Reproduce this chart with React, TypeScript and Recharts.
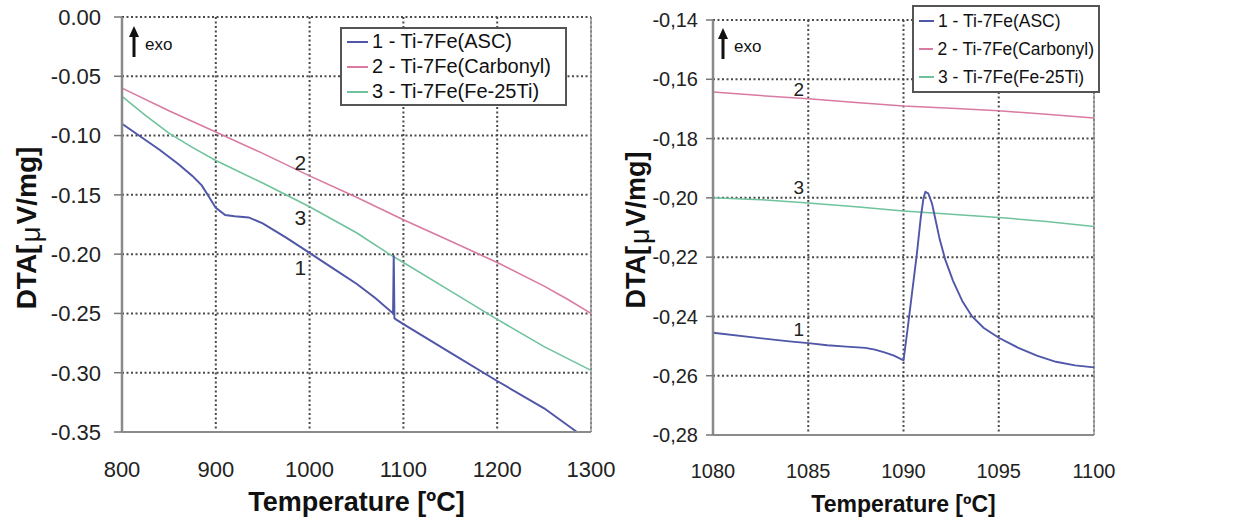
import { LineChart, Line, XAxis, YAxis, CartesianGrid, ReferenceLine, ReferenceDot, Legend } from 'recharts';

// series shared by both panels
const seriesNames = ['1 - Ti-7Fe(ASC)', '2 - Ti-7Fe(Carbonyl)', '3 - Ti-7Fe(Fe-25Ti)'];
const seriesColors = ['#5057a8', '#d97aa2', '#6fc39c'];

// left panel: full range 800-1300 C
const wideTicksX = [800, 900, 1000, 1100, 1200, 1300];
const wideTicksY = [0, -0.05, -0.1, -0.15, -0.2, -0.25, -0.3, -0.35];
const wideAscT = [800, 820, 840, 860, 875, 885, 893, 900, 910, 920, 935, 950, 975, 1000, 1025, 1050, 1070, 1089, 1089.7, 1090.4, 1092, 1100, 1150, 1200, 1250, 1285];
const wideAscV = [-0.09, -0.101, -0.112, -0.124, -0.134, -0.142, -0.152, -0.161, -0.167, -0.168, -0.169, -0.174, -0.186, -0.199, -0.212, -0.225, -0.237, -0.25, -0.201, -0.254, -0.255, -0.259, -0.283, -0.307, -0.33, -0.35];
const wideCarT = [800, 850, 900, 950, 1000, 1050, 1100, 1150, 1200, 1250, 1275, 1300];
const wideCarV = [-0.06, -0.079, -0.097, -0.115, -0.134, -0.152, -0.171, -0.189, -0.207, -0.227, -0.238, -0.25];
const wideFeT = [800, 825, 850, 875, 900, 950, 1000, 1050, 1085, 1100, 1150, 1200, 1250, 1300];
const wideFeV = [-0.067, -0.083, -0.098, -0.11, -0.121, -0.14, -0.16, -0.182, -0.2, -0.207, -0.231, -0.255, -0.278, -0.298];

// right panel: zoom 1080-1100 C
const zoomTicksX = [1080, 1085, 1090, 1095, 1100];
const zoomTicksY = [-0.14, -0.16, -0.18, -0.2, -0.22, -0.24, -0.26, -0.28];
const zoomAscT = [1080, 1082, 1084, 1085, 1086, 1087, 1088, 1088.5, 1089, 1089.5, 1090, 1090.2, 1090.45, 1090.7, 1090.9, 1091.05, 1091.15, 1091.3, 1091.5, 1091.7, 1091.9, 1092.2, 1092.6, 1093.1, 1093.6, 1094.2, 1095, 1096, 1097, 1098, 1099, 1100];
const zoomAscV = [-0.2455, -0.247, -0.2484, -0.249, -0.2497, -0.2502, -0.2506, -0.2512, -0.2521, -0.2532, -0.2548, -0.245, -0.232, -0.219, -0.207, -0.2, -0.198, -0.1985, -0.202, -0.208, -0.214, -0.221, -0.228, -0.235, -0.24, -0.2438, -0.2472, -0.2505, -0.2532, -0.2553, -0.2565, -0.2572];
const zoomCarT = [1080, 1082.5, 1085, 1087.5, 1090, 1092.5, 1095, 1097.5, 1100];
const zoomCarV = [-0.1643, -0.1655, -0.1666, -0.1678, -0.169, -0.1698, -0.1706, -0.1718, -0.1731];
const zoomFeT = [1080, 1082.5, 1085, 1087.5, 1090, 1092.5, 1095, 1097.5, 1100];
const zoomFeV = [-0.2, -0.2006, -0.2017, -0.203, -0.2044, -0.2055, -0.2066, -0.208, -0.2097];

const zip = (t: number[], v: number[]) => t.map((x, i) => ({ t: x, v: v[i] }));

const FONT = '"Liberation Sans", Arial, sans-serif';

const legendBox = (fontSize: number, rowH: number, lineW: number) => () => (
    <div style={{ border: '2px solid #555', background: '#fff', padding: '0 4px 0 5px', fontFamily: FONT, fontSize, color: '#111' }}>
        {seriesNames.map((n, i) => (
            <div key={n} style={{ display: 'flex', alignItems: 'center', height: rowH, whiteSpace: 'nowrap' }}>
                <span style={{ display: 'inline-block', width: lineW, borderTop: `2px solid ${seriesColors[i]}`, marginRight: 4 }} />
                {n}
            </div>
        ))}
    </div>
);

const yTitle = (x: number, y: number, size: number) => () => (
    <text x={x} y={y} transform={`rotate(-90 ${x} ${y})`} textAnchor="middle" fontSize={size} fontWeight="bold" fontFamily={FONT} fill="#111">
        DTA[<tspan fontWeight="normal" dx={2} dy={4}>μ</tspan><tspan dx={2} dy={-4}>V/mg]</tspan>
    </text>
);

const Exo = ({ x, y }: { x: number; y: number }) => (
    <svg style={{ position: 'absolute', left: x, top: y, overflow: 'visible' }} width={50} height={40}>
        <line x1={5} y1={9} x2={5} y2={31} stroke="#111" strokeWidth={3} />
        <polygon points="0,11 10,11 5,0" fill="#111" />
        <text x={16} y={24} fontSize={17} fontWeight={500} fontFamily={FONT} fill="#111">exo</text>
    </svg>
);

const numLabel = (v: string, size: number) => ({ value: v, position: 'center' as const, fontSize: size, fill: '#222', fontFamily: FONT });

export default function App() {
    const lines = (a: any[], c: any[], f: any[], w: number) => [
        <Line key="c" data={c} dataKey="v" type="linear" dot={false} stroke={seriesColors[1]} strokeWidth={w} isAnimationActive={false} />,
        <Line key="f" data={f} dataKey="v" type="linear" dot={false} stroke={seriesColors[2]} strokeWidth={w} isAnimationActive={false} />,
        <Line key="a" data={a} dataKey="v" type="linear" dot={false} stroke={seriesColors[0]} strokeWidth={w + 0.4} isAnimationActive={false} />,
    ];
    return (
        <div style={{ position: 'absolute', left: 0, top: 0, width: 1247, height: 521, background: '#fff', fontFamily: FONT }}>
            {/* left panel */}
            <div style={{ position: 'absolute', left: 0, top: 0 }}>
                <LineChart width={625} height={521} margin={{ top: 17, right: 34, bottom: 0, left: 0 }}>
                    <CartesianGrid stroke="#4a4a4a" strokeWidth={2} strokeDasharray="2 2.5" />
                    <XAxis dataKey="t" type="number" domain={[800, 1300]} ticks={wideTicksX} height={89} tickSize={0} tickMargin={29}
                        axisLine={{ stroke: '#8a8a8a', strokeWidth: 2 }} tick={{ fontSize: 22, fill: '#222', fontFamily: FONT }}
                        label={{ value: 'Temperature [ºC]', position: 'insideBottom', offset: 10, fontSize: 27, fontWeight: 'bold', fill: '#111', fontFamily: FONT }} />
                    <XAxis xAxisId="top" orientation="top" dataKey="t" type="number" domain={[800, 1300]} ticks={wideTicksX} height={0} tickSize={6}
                        axisLine={{ stroke: '#555', strokeWidth: 2 }} tickLine={{ stroke: '#666' }} tick={() => <g />} />
                    <YAxis type="number" domain={[-0.35, 0]} ticks={wideTicksY} width={122} tickSize={8} tickMargin={13}
                        axisLine={{ stroke: '#8a8a8a', strokeWidth: 2.5 }} tickLine={{ stroke: '#777', strokeWidth: 1.5 }}
                        tick={{ fontSize: 22, fill: '#222', fontFamily: FONT }} tickFormatter={(v: number) => v.toFixed(2).replace('-0.00', '0.00')}
                        label={yTitle(36, 228, 28)} />
                    <ReferenceLine x={1300} stroke="#999" strokeWidth={1.5} />
                    {lines(zip(wideAscT, wideAscV), zip(wideCarT, wideCarV), zip(wideFeT, wideFeV), 1.6)}
                    <ReferenceDot x={990} y={-0.123} r={0} fill="none" stroke="none" label={numLabel('2', 21)} />
                    <ReferenceDot x={990} y={-0.169} r={0} fill="none" stroke="none" label={numLabel('3', 21)} />
                    <ReferenceDot x={990} y={-0.2115} r={0} fill="none" stroke="none" label={numLabel('1', 21)} />
                    <Legend layout="vertical" align="center" verticalAlign="middle" width={227}
                        wrapperStyle={{ left: 340, top: 27, width: 227 }} content={legendBox(20, 25, 21)} />
                </LineChart>
                <Exo x={129} y={26} />
            </div>

            {/* right panel */}
            <div style={{ position: 'absolute', left: 600, top: 0 }}>
                <LineChart width={530} height={521} margin={{ top: 20, right: 36, bottom: 0, left: 0 }}>
                    <CartesianGrid stroke="#4a4a4a" strokeWidth={2} strokeDasharray="2 2.5" />
                    <XAxis dataKey="t" type="number" domain={[1080, 1100]} ticks={zoomTicksX} height={86} tickSize={0} tickMargin={29}
                        axisLine={{ stroke: '#8a8a8a', strokeWidth: 2 }} tick={{ fontSize: 20, fill: '#222', fontFamily: FONT }}
                        label={{ value: 'Temperature [ºC]', position: 'insideBottom', offset: 9, fontSize: 23, fontWeight: 'bold', fill: '#111', fontFamily: FONT }} />
                    <XAxis xAxisId="top" orientation="top" dataKey="t" type="number" domain={[1080, 1100]} ticks={zoomTicksX} height={0} tickSize={6}
                        axisLine={{ stroke: '#555', strokeWidth: 2 }} tickLine={{ stroke: '#666' }} tick={() => <g />} />
                    <YAxis type="number" domain={[-0.28, -0.14]} ticks={zoomTicksY} width={113} tickSize={7} tickMargin={8}
                        axisLine={{ stroke: '#8a8a8a', strokeWidth: 2.5 }} tickLine={{ stroke: '#777', strokeWidth: 1.5 }}
                        tick={{ fontSize: 20, fill: '#222', fontFamily: FONT }} tickFormatter={(v: number) => v.toFixed(2).replace('.', ',')}
                        label={yTitle(45, 230, 27)} />
                    <ReferenceLine x={1100} stroke="#999" strokeWidth={1.5} />
                    {lines(zip(zoomAscT, zoomAscV), zip(zoomCarT, zoomCarV), zip(zoomFeT, zoomFeV), 1.5)}
                    <ReferenceDot x={1084.5} y={-0.1635} r={0} fill="none" stroke="none" label={numLabel('2', 19)} />
                    <ReferenceDot x={1084.5} y={-0.1965} r={0} fill="none" stroke="none" label={numLabel('3', 19)} />
                    <ReferenceDot x={1084.5} y={-0.2442} r={0} fill="none" stroke="none" label={numLabel('1', 19)} />
                    <Legend layout="vertical" align="center" verticalAlign="middle" width={188}
                        wrapperStyle={{ left: 312, top: 5, width: 188 }} content={legendBox(17.5, 28, 15)} />
                </LineChart>
                <Exo x={118} y={28} />
            </div>
        </div>
    );
}
